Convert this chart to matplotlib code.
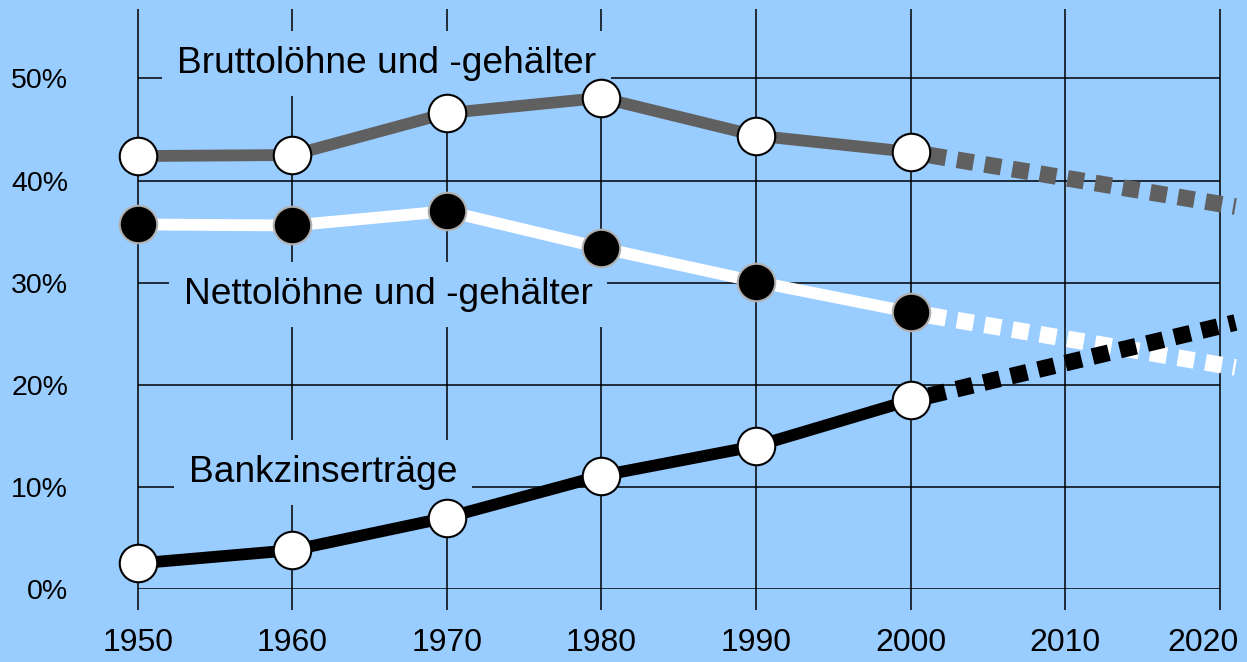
import matplotlib.pyplot as plt
from matplotlib.transforms import ScaledTranslation

plt.rcParams['font.family'] = ['Liberation Sans', 'DejaVu Sans']

# data
years = [1950, 1960, 1970, 1980, 1990, 2000]
brutto = [42.4, 42.5, 46.6, 48.1, 44.4, 42.8]
netto = [35.7, 35.6, 37.0, 33.4, 30.1, 27.1]
bank = [2.5, 3.8, 7.0, 11.1, 14.0, 18.5]

proj_years = [2000, 2021]
brutto_proj = [42.8, 37.45]
netto_proj = [27.1, 21.7]
bank_proj = [18.5, 26.1]

x_ticks = [1950, 1960, 1970, 1980, 1990, 2000, 2010, 2020]
y_ticks = [0, 10, 20, 30, 40, 50]
y_labels = ['0%', '10%', '20%', '30%', '40%', '50%']

bg = '#99ccff'
grey = '#606060'

fig = plt.figure(figsize=(12.47, 6.62), dpi=100, facecolor=bg)
ax = fig.add_axes([0.1104, 0.1103, 0.8679, 0.8761])
ax.set_facecolor(bg)
ax.set_xlim(1950, 2020)
ax.set_ylim(0, 56.8)
for s in ax.spines.values():
    s.set_visible(False)

# grid
ax.vlines(x_ticks, -2.1, 56.8, color='black', lw=1.1, clip_on=False, zorder=1)
ax.hlines(y_ticks, 1950, 2020, color='black', lw=1.1, zorder=1)

ax.set_xticks(x_ticks)
ax.set_xticklabels([str(x) for x in x_ticks], fontsize=23)
ax.set_yticks(y_ticks)
ax.set_yticklabels(y_labels, fontsize=20.5)
ax.tick_params(axis='x', length=0, pad=28)
ax.tick_params(axis='y', length=0, pad=50)
# last year label sits a bit left so it stays inside the picture
last = ax.get_xticklabels()[-1]
last.set_transform(last.get_transform() + ScaledTranslation(-0.17, 0, fig.dpi_scale_trans))

# projections (dotted)
dots = (0.54, (1.0, 0.68))
ax.plot(proj_years, brutto_proj, color=grey, lw=12, linestyle=dots,
        dash_capstyle='butt', clip_on=False, zorder=2.5)
ax.plot(proj_years, netto_proj, color='white', lw=12, linestyle=dots,
        dash_capstyle='butt', clip_on=False, zorder=2.5)
ax.plot(proj_years, bank_proj, color='black', lw=12, linestyle=dots,
        dash_capstyle='butt', clip_on=False, zorder=2.5)

# main lines
ax.plot(years, brutto, color=grey, lw=8.5, solid_capstyle='butt', zorder=3)
ax.plot(years, netto, color='white', lw=8.5, solid_capstyle='butt', zorder=3)
ax.plot(years, bank, color='black', lw=8.5, solid_capstyle='butt', zorder=3)

ax.plot(years, brutto, 'o', ms=27, mfc='white', mec='black', mew=1.5, zorder=4, clip_on=False)
ax.plot(years, netto, 'o', ms=27, mfc='black', mec='#b0b0b0', mew=1.5, zorder=4, clip_on=False)
ax.plot(years, bank, 'o', ms=27, mfc='white', mec='black', mew=1.5, zorder=4, clip_on=False)

# labels
box = dict(boxstyle='square,pad=0.4', fc=bg, ec='none')
ax.text(1966.1, 50.5, 'Bruttolöhne und -gehälter', fontsize=26.7, ha='center',
        va='baseline', bbox=box, zorder=2)
ax.text(1966.2, 27.9, 'Nettolöhne und -gehälter', fontsize=26.7, ha='center',
        va='baseline', bbox=box, zorder=2)
ax.text(1962.0, 10.5, 'Bankzinserträge', fontsize=26.7, ha='center',
        va='baseline', bbox=box, zorder=2)

fig.savefig('out.png', dpi=100, facecolor=bg)
